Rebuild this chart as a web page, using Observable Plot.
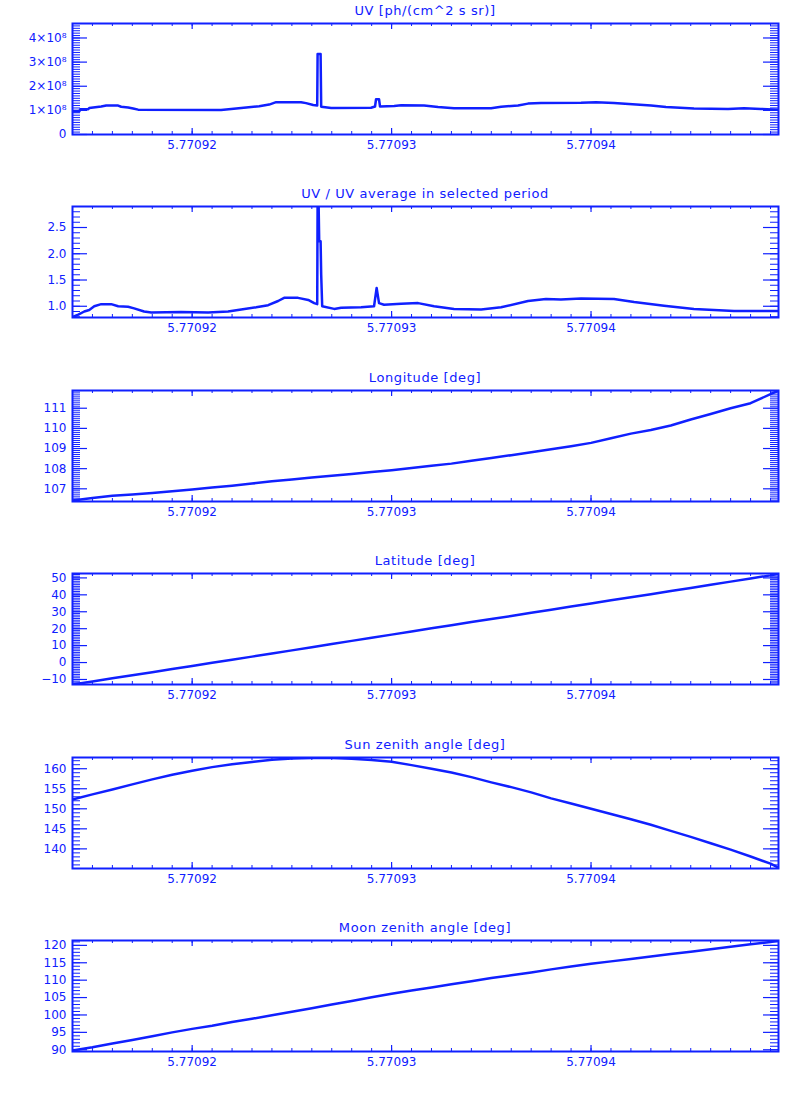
<!DOCTYPE html>
<html>
<head>
<meta charset="utf-8">
<script src="https://cdn.jsdelivr.net/npm/d3@7"></script>
<script src="https://cdn.jsdelivr.net/npm/@observablehq/plot@0.6"></script>
<style>
  html, body { margin: 0; padding: 0; background: #ffffff; }
  #page { position: relative; width: 800px; height: 1100px; background: #ffffff; overflow: hidden; }
  .ptitle { position: absolute; left: 72px; width: 706px; height: 20px; line-height: 20px; text-align: center;
            font-family: "DejaVu Sans", sans-serif; font-size: 13px; letter-spacing: 0.6px; color: #1020ff; white-space: nowrap; }
  .pbox { position: absolute; left: 0; }
</style>
</head>
<body>
<div id="page"></div>
<script>
// ---------- data ----------
const xDomain = [5.770914, 5.7709494];
const xMajorTicks = [5.77092, 5.77093, 5.77094];

const titles = [
  "UV [ph/(cm^2 s sr)]",
  "UV / UV average in selected period",
  "Longitude [deg]",
  "Latitude [deg]",
  "Sun zenith angle [deg]",
  "Moon zenith angle [deg]"
];

// UV photon rate
const uvX = [5.77091404, 5.77091434, 5.77091439, 5.77091479, 5.77091484, 5.77091544, 5.77091569, 5.77091629,
  5.77091644, 5.77091679, 5.77091704, 5.77091729, 5.77092145, 5.77092196, 5.77092271, 5.77092336, 5.77092386,
  5.77092421, 5.77092546, 5.77092571, 5.77092607, 5.77092627, 5.77092629, 5.77092644, 5.77092647, 5.77092697,
  5.77092897, 5.77092917, 5.77092922, 5.77092937, 5.77092942, 5.77093013, 5.77093048, 5.77093163, 5.77093233,
  5.77093313, 5.77093499, 5.77093549, 5.77093634, 5.77093684, 5.77093749, 5.77093950, 5.77094025, 5.77094115,
  5.77094301, 5.77094376, 5.77094516, 5.77094687, 5.77094767, 5.77094852, 5.77094942];
const uvValues = [0.95e8, 0.95e8, 1.05e8, 1.05e8, 1.10e8, 1.16e8, 1.20e8, 1.20e8,
  1.15e8, 1.12e8, 1.08e8, 1.03e8, 1.02e8, 1.06e8, 1.12e8, 1.17e8, 1.24e8,
  1.34e8, 1.34e8, 1.30e8, 1.22e8, 1.20e8, 3.34e8, 3.34e8, 1.15e8, 1.10e8,
  1.11e8, 1.16e8, 1.46e8, 1.46e8, 1.16e8, 1.18e8, 1.21e8, 1.20e8, 1.14e8,
  1.09e8, 1.09e8, 1.15e8, 1.20e8, 1.28e8, 1.31e8, 1.32e8, 1.34e8, 1.31e8,
  1.20e8, 1.14e8, 1.08e8, 1.06e8, 1.09e8, 1.06e8, 1.02e8];

// UV relative to average
const ratioX = [5.77091404, 5.77091429, 5.77091459, 5.77091484, 5.77091509, 5.77091544, 5.77091594, 5.77091629,
  5.77091679, 5.77091709, 5.77091759, 5.77091795, 5.77091945, 5.77092080, 5.77092130, 5.77092180, 5.77092246,
  5.77092321, 5.77092381, 5.77092431, 5.77092461, 5.77092531, 5.77092582, 5.77092612, 5.77092627, 5.77092629,
  5.77092634, 5.77092637, 5.77092644, 5.77092647, 5.77092652, 5.77092712, 5.77092747, 5.77092847, 5.77092912,
  5.77092925, 5.77092937, 5.77092962, 5.77093048, 5.77093133, 5.77093213, 5.77093313, 5.77093449, 5.77093549,
  5.77093684, 5.77093774, 5.77093849, 5.77093950, 5.77094115, 5.77094216, 5.77094366, 5.77094516, 5.77094717,
  5.77094942];
const ratioValues = [0.80, 0.84, 0.90, 0.93, 1.00, 1.04, 1.04, 1.00,
  0.99, 0.96, 0.90, 0.88, 0.89, 0.88, 0.89, 0.90, 0.94,
  0.98, 1.02, 1.10, 1.16, 1.16, 1.12, 1.06, 1.04, 2.95,
  2.95, 2.24, 2.24, 1.60, 1.00, 0.95, 0.97, 0.98, 1.00,
  1.35, 1.06, 1.03, 1.05, 1.06, 1.00, 0.95, 0.94, 0.98,
  1.10, 1.14, 1.13, 1.15, 1.14, 1.08, 1.01, 0.95, 0.91,
  0.91];

// regular time samples for the orbit quantities
const orbitX = [5.770914, 5.770915, 5.770916, 5.770917, 5.770918, 5.770919, 5.770920, 5.770921, 5.770922,
  5.770923, 5.770924, 5.770925, 5.770926, 5.770927, 5.770928, 5.770929, 5.770930, 5.770931, 5.770932,
  5.770933, 5.770934, 5.770935, 5.770936, 5.770937, 5.770938, 5.770939, 5.770940, 5.770941, 5.770942,
  5.770943, 5.770944, 5.770945, 5.770946, 5.770947, 5.770948, 5.770949, 5.7709494];
const lonValues = [106.42, 106.54, 106.65, 106.72, 106.79, 106.88, 106.97, 107.06, 107.15,
  107.26, 107.37, 107.46, 107.56, 107.65, 107.74, 107.83, 107.92, 108.03, 108.14,
  108.25, 108.39, 108.53, 108.67, 108.81, 108.96, 109.11, 109.28, 109.51, 109.74,
  109.92, 110.14, 110.44, 110.71, 111.00, 111.25, 111.70, 111.87];
const latValues = [-12.9, -11.2, -9.3, -7.5, -5.7, -3.8, -2.0, -0.1, 1.7,
  3.5, 5.4, 7.2, 9.1, 10.9, 12.8, 14.6, 16.5, 18.3, 20.2,
  22.0, 23.9, 25.7, 27.5, 29.4, 31.2, 33.1, 34.9, 36.8, 38.6,
  40.4, 42.3, 44.1, 46.0, 47.8, 49.7, 51.5, 52.4];
const sunValues = [152.3, 153.6, 154.8, 156.1, 157.35, 158.5, 159.5, 160.4, 161.1,
  161.7, 162.25, 162.55, 162.7, 162.7, 162.5, 162.2, 161.75, 160.9, 160.0,
  159.05, 157.9, 156.6, 155.4, 154.1, 152.6, 151.3, 150.0, 148.7, 147.4,
  146.0, 144.5, 143.0, 141.4, 139.8, 138.1, 136.3, 135.3];
const moonValues = [89.8, 90.7, 91.8, 92.8, 93.9, 95.0, 96.0, 96.9, 98.0,
  98.9, 99.9, 100.9, 101.9, 103.0, 104.0, 105.1, 106.1, 107.0, 107.9,
  108.8, 109.7, 110.6, 111.4, 112.2, 113.1, 113.9, 114.7, 115.4, 116.1,
  116.8, 117.5, 118.2, 118.9, 119.6, 120.3, 121.0, 121.35];

const uvTicks = [0, 1e8, 2e8, 3e8, 4e8];
const uvTickLabels = ["0", "1×10⁸", "2×10⁸", "3×10⁸", "4×10⁸"];
const ratioTicks = [1.0, 1.5, 2.0, 2.5];
const lonTicks = [107, 108, 109, 110, 111];
const latTicks = [-10, 0, 10, 20, 30, 40, 50];
const sunTicks = [140, 145, 150, 155, 160];
const moonTicks = [90, 95, 100, 105, 110, 115, 120];

// ---------- drawing ----------
const BLUE = "#1020ff";
const W = 800, ML = 72, MR = 22, MT = 2, MB = 30, PH = 111;
const PW = W - ML - MR;

function minorTicks(domain, step) {
  const out = [];
  const n0 = Math.ceil(domain[0] / step - 1e-9), n1 = Math.floor(domain[1] / step + 1e-9);
  for (let n = n0; n <= n1; n++) out.push(n * step);
  return out;
}
const xMinor = minorTicks(xDomain, 1e-6);

const panels = [
  {rows: uvX.map((x, i) => ({x, y: uvValues[i]})), domain: [0, 4.6e8], major: uvTicks, step: 1e7,
   fmt: d => uvTickLabels[uvTicks.indexOf(d)]},
  {rows: ratioX.map((x, i) => ({x, y: ratioValues[i]})), domain: [0.786, 2.90], major: ratioTicks, step: 0.1,
   fmt: d => d.toFixed(1)},
  {rows: orbitX.map((x, i) => ({x, y: lonValues[i]})), domain: [106.37, 111.88], major: lonTicks, step: 0.1,
   fmt: d => String(d)},
  {rows: orbitX.map((x, i) => ({x, y: latValues[i]})), domain: [-12.96, 52.6], major: latTicks, step: 1,
   fmt: d => d < 0 ? "−" + Math.abs(d) : String(d)},
  {rows: orbitX.map((x, i) => ({x, y: sunValues[i]})), domain: [135.1, 162.8], major: sunTicks, step: 1,
   fmt: d => String(d)},
  {rows: orbitX.map((x, i) => ({x, y: moonValues[i]})), domain: [89.5, 121.4], major: moonTicks, step: 1,
   fmt: d => String(d)}
];

const page = document.getElementById("page");
panels.forEach((p, i) => {
  const top = Math.round(23 + 183.4 * i);
  const t = document.createElement("div");
  t.className = "ptitle";
  t.style.top = (top - 22) + "px";
  t.textContent = titles[i];
  page.appendChild(t);

  const yMinor = minorTicks(p.domain, p.step);
  const chart = Plot.plot({
    width: W, height: MT + PH + MB,
    marginLeft: ML, marginRight: MR, marginTop: MT, marginBottom: MB,
    x: {domain: xDomain},
    y: {domain: p.domain},
    style: {fontFamily: "DejaVu Sans, sans-serif", fontSize: "12px", color: BLUE, background: "transparent", overflow: "visible"},
    marks: [
      Plot.ruleY(yMinor, {y: d => d, stroke: BLUE, strokeWidth: 1, insetLeft: 0, insetRight: PW - 8}),
      Plot.ruleY(yMinor, {y: d => d, stroke: BLUE, strokeWidth: 1, insetLeft: PW - 8, insetRight: 0}),
      Plot.ruleY(p.major, {y: d => d, stroke: BLUE, strokeWidth: 1.2, insetLeft: 0, insetRight: PW - 15}),
      Plot.ruleY(p.major, {y: d => d, stroke: BLUE, strokeWidth: 1.2, insetLeft: PW - 15, insetRight: 0}),
      Plot.ruleX(xMinor, {x: d => d, stroke: BLUE, strokeWidth: 1, insetTop: PH - 3, insetBottom: 0}),
      Plot.ruleX(xMinor, {x: d => d, stroke: BLUE, strokeWidth: 1, insetTop: 0, insetBottom: PH - 3}),
      Plot.ruleX(xMajorTicks, {x: d => d, stroke: BLUE, strokeWidth: 1.2, insetTop: PH - 6, insetBottom: 0}),
      Plot.ruleX(xMajorTicks, {x: d => d, stroke: BLUE, strokeWidth: 1.2, insetTop: 0, insetBottom: PH - 6}),
      Plot.axisY({ticks: p.major, tickSize: 0, tickPadding: 6, tickFormat: p.fmt, label: null, fill: BLUE}),
      Plot.axisX({ticks: xMajorTicks, tickSize: 0, tickPadding: 6, tickFormat: d => d.toFixed(5), label: null, fill: BLUE}),
      Plot.line(p.rows, {x: "x", y: "y", stroke: BLUE, strokeWidth: 2.5, clip: true}),
      Plot.frame({stroke: BLUE, strokeWidth: 2})
    ]
  });
  const box = document.createElement("div");
  box.className = "pbox";
  box.style.top = (top - MT) + "px";
  box.appendChild(chart);
  page.appendChild(box);
});
</script>
</body>
</html>
